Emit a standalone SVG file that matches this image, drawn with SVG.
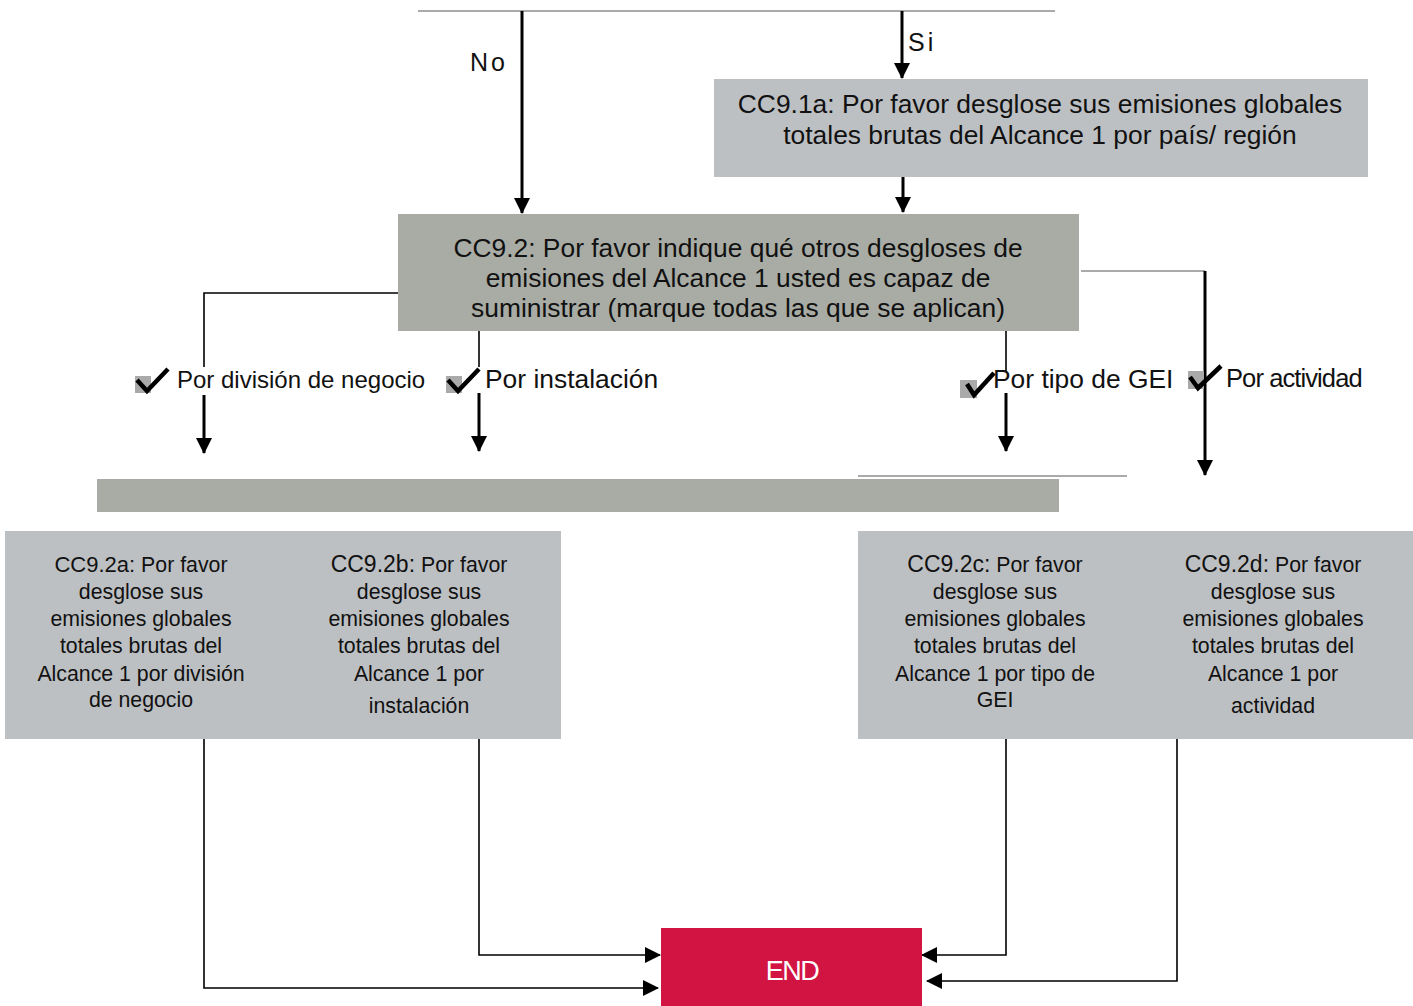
<svg xmlns="http://www.w3.org/2000/svg" width="1413" height="1006" viewBox="0 0 1413 1006">
<style>
text{font-family:"Liberation Sans",Arial,sans-serif;fill:#111;}
.q{font-size:26.4px;text-anchor:middle;}
.s{font-size:21.3px;text-anchor:middle;}
.lbl{font-size:25px;}
.ln{fill:none;stroke:#000;stroke-width:3;}
.thin{fill:none;stroke:#000;stroke-width:1.6;}
.gl{fill:none;stroke:#aaa;stroke-width:2;}
.box1{fill:#bdc0c3;}
.box2{fill:#a9aca5;}
.chk{fill:none;stroke:#000;stroke-width:4.5;stroke-linejoin:miter;}
.sq{fill:#aaa;}
</style>
<defs>
<marker id="ahB" markerWidth="16" markerHeight="16" refX="15" refY="8" orient="auto" markerUnits="userSpaceOnUse" viewBox="0 0 16 16">
<path d="M0,0 L16,8 L0,16 z" fill="#000"/>
</marker>
</defs>
<rect width="1413" height="1006" fill="#fff"/>

<g id="connectors">
<line class="gl" x1="418" y1="11" x2="1055" y2="11"/>
<line class="ln" x1="522" y1="11" x2="522" y2="213" marker-end="url(#ahB)"/>
<line class="ln" x1="902" y1="11" x2="902" y2="78" marker-end="url(#ahB)"/>
<line class="ln" x1="903" y1="177" x2="903" y2="212" marker-end="url(#ahB)"/>
<polyline class="thin" points="398,293 204,293 204,367"/>
<line class="ln" x1="204" y1="395" x2="204" y2="453" marker-end="url(#ahB)"/>
<line class="thin" x1="479" y1="331" x2="479" y2="367"/>
<line class="ln" x1="479" y1="393" x2="479" y2="451" marker-end="url(#ahB)"/>
<line class="thin" x1="1006" y1="331" x2="1006" y2="372"/>
<line class="ln" x1="1006" y1="393" x2="1006" y2="451" marker-end="url(#ahB)"/>
<line class="gl" x1="1081" y1="271" x2="1205" y2="271"/>
<line class="ln" x1="1205" y1="271" x2="1205" y2="475" marker-end="url(#ahB)"/>
<line class="gl" x1="858" y1="476" x2="1127" y2="476" stroke-width="1.5"/>
<polyline class="thin" points="204,739 204,988 658,988" marker-end="url(#ahB)"/>
<polyline class="thin" points="479,739 479,955 660,955" marker-end="url(#ahB)"/>
<polyline class="thin" points="1006,739 1006,955 922,955" marker-end="url(#ahB)"/>
<polyline class="thin" points="1177,739 1177,981 927,981" marker-end="url(#ahB)"/>
</g>

<g id="label-no"><text class="lbl" x="470" y="71" letter-spacing="3">No</text></g>
<g id="label-si"><text class="lbl" x="908" y="51" letter-spacing="3">Si</text></g>

<g id="cc91a">
<rect class="box1" x="714" y="79" width="654" height="98"/>
<text class="q" x="1040" y="113">CC9.1a: Por favor desglose sus emisiones globales</text>
<text class="q" x="1040" y="144">totales brutas del Alcance 1 por país/ región</text>
</g>

<g id="cc92">
<rect class="box2" x="398" y="214" width="681" height="117"/>
<text class="q" x="738" y="257">CC9.2: Por favor indique qué otros desgloses de</text>
<text class="q" x="738" y="287">emisiones del Alcance 1 usted es capaz de</text>
<text class="q" x="738" y="317">suministrar (marque todas las que se aplican)</text>
</g>

<g id="opt-division">
<rect class="sq" x="135" y="376" width="16" height="17"/>
<path class="chk" d="M137,380 L147,391 L168,369"/>
<text x="177" y="388" font-size="24">Por división de negocio</text>
</g>
<g id="opt-instalacion">
<rect class="sq" x="446" y="376" width="16" height="17"/>
<path class="chk" d="M448,380 L458,391 L479,369"/>
<text x="485" y="388" font-size="26.4">Por instalación</text>
</g>
<g id="opt-gei">
<rect class="sq" x="960" y="380" width="17" height="18"/>
<path class="chk" d="M967,384 L974,395 L994,373"/>
<text x="993" y="388" font-size="26.4">Por tipo de GEI</text>
</g>
<g id="opt-actividad">
<rect class="sq" x="1188" y="371" width="16" height="18"/>
<path class="chk" d="M1190,377 L1198,388 L1221,366"/>
<text x="1226" y="387" font-size="25.5" letter-spacing="-0.9">Por actividad</text>
</g>

<g id="bar"><rect class="box2" x="97" y="479" width="962" height="33"/></g>

<g id="cc92ab">
<rect class="box1" x="5" y="531" width="556" height="208"/>
<text class="s" x="141" y="572"><tspan font-size="22">CC9.2a:</tspan> Por favor</text>
<text class="s" x="141" y="599">desglose sus</text>
<text class="s" x="141" y="626">emisiones globales</text>
<text class="s" x="141" y="653">totales brutas del</text>
<text class="s" x="141" y="681">Alcance 1 por división</text>
<text class="s" x="141" y="707">de negocio</text>
<text class="s" x="419" y="572"><tspan font-size="23">CC9.2b:</tspan> Por favor</text>
<text class="s" x="419" y="599">desglose sus</text>
<text class="s" x="419" y="626">emisiones globales</text>
<text class="s" x="419" y="653">totales brutas del</text>
<text class="s" x="419" y="681">Alcance 1 por</text>
<text class="s" x="419" y="713">instalación</text>
</g>

<g id="cc92cd">
<rect class="box1" x="858" y="531" width="555" height="208"/>
<text class="s" x="995" y="572"><tspan font-size="23">CC9.2c:</tspan> Por favor</text>
<text class="s" x="995" y="599">desglose sus</text>
<text class="s" x="995" y="626">emisiones globales</text>
<text class="s" x="995" y="653">totales brutas del</text>
<text class="s" x="995" y="681">Alcance 1 por tipo de</text>
<text class="s" x="995" y="707">GEI</text>
<text class="s" x="1273" y="572"><tspan font-size="23">CC9.2d:</tspan> Por favor</text>
<text class="s" x="1273" y="599">desglose sus</text>
<text class="s" x="1273" y="626">emisiones globales</text>
<text class="s" x="1273" y="653">totales brutas del</text>
<text class="s" x="1273" y="681">Alcance 1 por</text>
<text class="s" x="1273" y="713">actividad</text>
</g>

<g id="end">
<rect x="661" y="928" width="261" height="78" fill="#d21443"/>
<text x="792" y="980" font-size="27" text-anchor="middle" letter-spacing="-1.5" style="fill:#fff">END</text>
</g>
</svg>
